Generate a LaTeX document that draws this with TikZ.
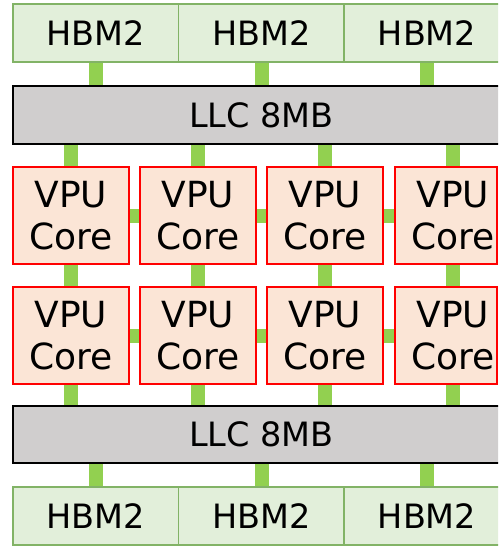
\documentclass[tikz,border=0pt]{standalone}
\usepackage{fontspec}
\setmainfont{DejaVu Sans}
\usetikzlibrary{backgrounds}
\definecolor{hbmfill}{HTML}{E2EFDA}
\definecolor{hbmdraw}{HTML}{82B366}
\definecolor{llcfill}{HTML}{D0CECE}
\definecolor{vpufill}{HTML}{FBE5D6}
\definecolor{linkgreen}{HTML}{92D050}
\begin{document}
\begin{tikzpicture}[x=1pt,y=-1pt,
  hbm/.style={draw=hbmdraw, fill=hbmfill, line width=1.5pt, minimum width=166pt, minimum height=58pt, inner sep=0pt, font=\fontsize{33.5}{40}\selectfont},
  llc/.style={draw=black, fill=llcfill, line width=1.5pt, minimum width=497pt, minimum height=58pt, inner sep=0pt, font=\fontsize{33.5}{40}\selectfont},
  vpu/.style={draw=red, fill=vpufill, line width=1.5pt, minimum width=116pt, minimum height=97pt, inner sep=0pt, align=center, font=\fontsize{36}{41.5}\selectfont},
  vpulab/.style={align=center, font=\fontsize{36}{41.5}\selectfont, inner sep=0pt},
  link/.style={draw=linkgreen, line width=14pt}]
\useasboundingbox (0,0) rectangle (498,546);
\clip (0,0) rectangle (498,546);
% HBM top
\node[hbm] (h1) at (96,33) {HBM2};
\node[hbm] (h2) at (261.5,33) {HBM2};
\node[hbm] (h3) at (427,33) {HBM2};
% LLC top
\node[llc] (l1) at (261.5,115) {LLC 8MB};
% cores row 1
\node[vpu] (c11) at (71,215.5) {VPU\\Core};
\node[vpu] (c12) at (198,215.5) {VPU\\Core};
\node[vpu] (c13) at (325,215.5) {VPU\\Core};
\node[vpu, minimum width=102pt, label={[vpulab, xshift=7pt]center:{VPU\\Core}}] (c14) at (446,215.5) {};
% cores row 2
\node[vpu] (c21) at (71,335.5) {VPU\\Core};
\node[vpu] (c22) at (198,335.5) {VPU\\Core};
\node[vpu] (c23) at (325,335.5) {VPU\\Core};
\node[vpu, minimum width=102pt, label={[vpulab, xshift=7pt]center:{VPU\\Core}}] (c24) at (446,335.5) {};
% LLC bottom
\node[llc, minimum height=57pt] (l2) at (261.5,434.5) {LLC 8MB};
% HBM bottom
\node[hbm] (h4) at (96,516) {HBM2};
\node[hbm] (h5) at (261.5,516) {HBM2};
\node[hbm] (h6) at (427,516) {HBM2};
\coordinate (k4) at (453,0);
\begin{scope}[on background layer]
  \foreach \h in {h1,h2,h3} \draw[link] (\h.south) -- (\h.south |- l1.north);
  \foreach \h in {h4,h5,h6} \draw[link] (\h.north) -- (\h.north |- l2.south);
  \foreach \c/\d in {c11/c21,c12/c22,c13/c23} {
    \draw[link] (\c.north) -- (\c.north |- l1.south);
    \draw[link] (\c.south) -- (\d.north);
    \draw[link] (\d.south) -- (\d.south |- l2.north);
  }
  \draw[link] (c14.north -| k4) -- (l1.south -| k4);
  \draw[link] (c14.south -| k4) -- (c24.north -| k4);
  \draw[link] (c24.south -| k4) -- (l2.north -| k4);
  \foreach \a/\b in {c11/c12,c12/c13,c13/c14,c21/c22,c22/c23,c23/c24}
    \draw[link] (\a.east) -- (\b.west);
\end{scope}
\end{tikzpicture}
\end{document}
